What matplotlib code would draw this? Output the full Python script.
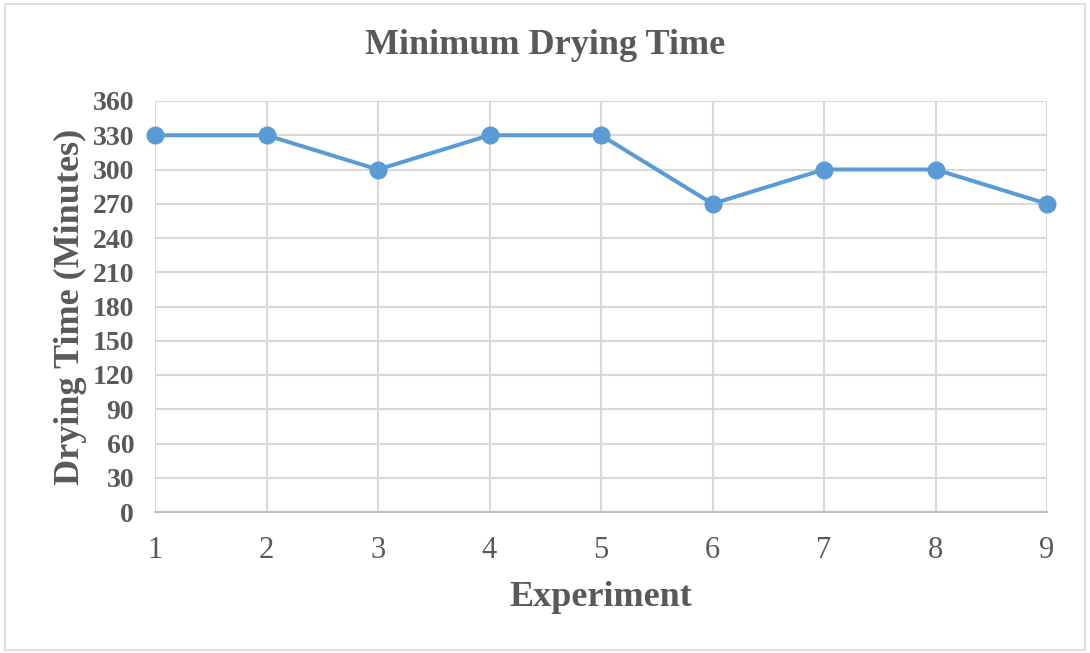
import matplotlib
matplotlib.use("Agg")
import matplotlib.pyplot as plt
from matplotlib.patches import Rectangle

experiments = [1, 2, 3, 4, 5, 6, 7, 8, 9]
drying_time = [330, 330, 300, 330, 330, 270, 300, 300, 270]
y_ticks = list(range(0, 361, 30))

text_color = "#595959"
grid_color = "#D9D9D9"
line_color = "#5B9BD5"

plt.rcParams["font.family"] = ["Liberation Serif", "DejaVu Serif"]

fig = plt.figure(figsize=(10.9, 6.53), dpi=100)
ax = fig.add_axes([155 / 1090, 1 - 512 / 653, (1047 - 155) / 1090, (512 - 101) / 653])

ax.plot(experiments, drying_time, color=line_color, linewidth=2.9,
        marker="o", markersize=12, zorder=3, clip_on=False)

ax.set_xlim(1, 9)
ax.set_ylim(0, 360)
ax.set_xticks(experiments)
ax.set_yticks(y_ticks)
ax.grid(True, color=grid_color, linewidth=1.5)
ax.set_axisbelow(True)

for side in ["top", "right", "left"]:
    ax.spines[side].set_visible(False)
ax.spines["bottom"].set_color("#BFBFBF")
ax.spines["bottom"].set_linewidth(1.5)

ax.tick_params(axis="both", length=0, colors=text_color)
ax.tick_params(axis="x", labelsize=22, pad=17)
ax.tick_params(axis="y", labelsize=20, pad=15)
for lbl in ax.get_yticklabels():
    lbl.set_fontweight("bold")

ax.set_xlabel("Experiment", fontsize=26, fontweight="bold", color=text_color, labelpad=12)
ax.set_ylabel("Drying Time (Minutes)", fontsize=26, fontweight="bold", color=text_color, labelpad=4)
fig.text(0.5, 1 - 45 / 653, "Minimum Drying Time", ha="center", va="center",
         fontsize=26, fontweight="bold", color=text_color)

fig.patches.append(Rectangle((5 / 1090, 3 / 653), 1080 / 1090, 646 / 653,
                             transform=fig.transFigure, fill=False,
                             edgecolor=grid_color, linewidth=1.2))

fig.savefig("out.png", dpi=100)
